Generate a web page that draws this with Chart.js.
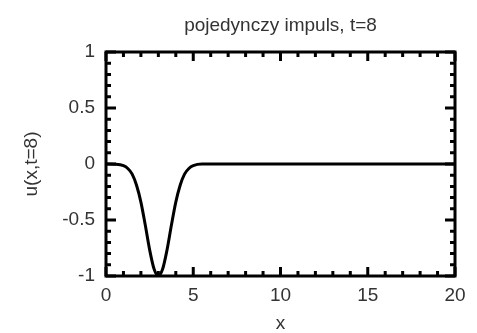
<!DOCTYPE html>
<html>
<head>
<meta charset="utf-8">
<script src="https://cdn.jsdelivr.net/npm/chart.js@4/dist/chart.umd.min.js"></script>
<style>
  html, body { margin: 0; padding: 0; background: #fff; }
</style>
</head>
<body>
<canvas id="pulseChart" width="477" height="333"></canvas>
<script>
// dane
const chartTitle = 'pojedynczy impuls, t=8';
const xLabel = 'x';
const yLabel = 'u(x,t=8)';
const xValues = [0, 0.5, 1, 1.25, 1.5, 1.75, 2, 2.25, 2.5, 2.75, 3, 3.25, 3.5, 3.75, 4, 4.25, 4.5, 4.75, 5, 5.5, 20];
const uValues = [0, -0.002, -0.015, -0.04, -0.09, -0.19, -0.34, -0.545, -0.765, -0.935, -1, -0.935, -0.765, -0.545, -0.34, -0.19, -0.09, -0.04, -0.015, -0.001, 0];
const xTicks = [0, 5, 10, 15, 20];
const yTicks = [-1, -0.5, 0, 0.5, 1];

const textColor = '#333';
const fontFamily = '"Liberation Sans", Arial, sans-serif';

// ramka i znaczniki do wewnatrz (styl gnuplota)
const gnuplotFrame = {
    id: 'gnuplotFrame',
    afterDatasetsDraw(chart) {
        const ctx = chart.ctx;
        const area = chart.chartArea;
        const xs = chart.scales.x;
        const ys = chart.scales.y;
        ctx.save();
        ctx.strokeStyle = '#000';
        ctx.lineWidth = 3;
        ctx.strokeRect(area.left, area.top, area.right - area.left, area.bottom - area.top);

        ctx.beginPath();
        for (let v = xs.min; v <= xs.max + 1e-9; v += 1) {
            const px = xs.getPixelForValue(v);
            const len = xTicks.includes(v) ? 9 : 5;
            ctx.moveTo(px, area.bottom);
            ctx.lineTo(px, area.bottom - len);
            ctx.moveTo(px, area.top);
            ctx.lineTo(px, area.top + len);
        }
        for (let i = 0; i <= 20; i++) {
            const v = ys.min + i * 0.1;
            const py = ys.getPixelForValue(v);
            const len = i % 5 === 0 ? 10 : 5;
            ctx.moveTo(area.left, py);
            ctx.lineTo(area.left + len, py);
            ctx.moveTo(area.right, py);
            ctx.lineTo(area.right - len, py);
        }
        ctx.stroke();
        ctx.restore();
    }
};

const ctx = document.getElementById('pulseChart').getContext('2d');
const pulseChart = new Chart(ctx, {
    type: 'line',
    data: {
        datasets: [{
            data: xValues.map((x, i) => ({ x: x, y: uValues[i] })),
            borderColor: '#000',
            borderWidth: 3,
            pointRadius: 0,
            cubicInterpolationMode: 'monotone',
            fill: false
        }]
    },
    options: {
        responsive: false,
        animation: false,
        layout: { padding: { left: 0, right: 22, top: 0, bottom: 0 } },
        plugins: {
            legend: { display: false },
            tooltip: { enabled: false }
        },
        scales: {
            x: {
                type: 'linear',
                min: 0,
                max: 20,
                afterBuildTicks(scale) { scale.ticks = xTicks.map(v => ({ value: v })); },
                afterFit(scale) { scale.height = 57; },
                grid: { display: false, drawTicks: false },
                border: { display: false },
                ticks: { color: textColor, padding: 8, font: { family: fontFamily, size: 19 } },
                title: {
                    display: true,
                    text: xLabel,
                    color: textColor,
                    font: { family: fontFamily, size: 19, lineHeight: 1 },
                    padding: { top: 0, bottom: 0 }
                }
            },
            // gorna os tylko dla tytulu, wysrodkowanego nad obszarem wykresu
            xTop: {
                type: 'linear',
                position: 'top',
                min: 0,
                max: 20,
                afterFit(scale) { scale.height = 52; },
                grid: { display: false, drawTicks: false },
                border: { display: false },
                ticks: { display: false },
                title: {
                    display: true,
                    text: chartTitle,
                    color: textColor,
                    font: { family: fontFamily, size: 19 },
                    padding: { top: 14, bottom: 0 }
                }
            },
            y: {
                type: 'linear',
                min: -1,
                max: 1,
                afterBuildTicks(scale) { scale.ticks = yTicks.map(v => ({ value: v })); },
                afterFit(scale) { scale.width = 106; },
                grid: { display: false, drawTicks: false },
                border: { display: false },
                ticks: {
                    color: textColor,
                    padding: 11,
                    font: { family: fontFamily, size: 19 },
                    callback: (value) => String(value)
                },
                title: {
                    display: true,
                    text: yLabel,
                    color: textColor,
                    font: { family: fontFamily, size: 19 },
                    padding: { top: 20, bottom: 0 }
                }
            }
        }
    },
    plugins: [gnuplotFrame]
});
</script>
</body>
</html>
